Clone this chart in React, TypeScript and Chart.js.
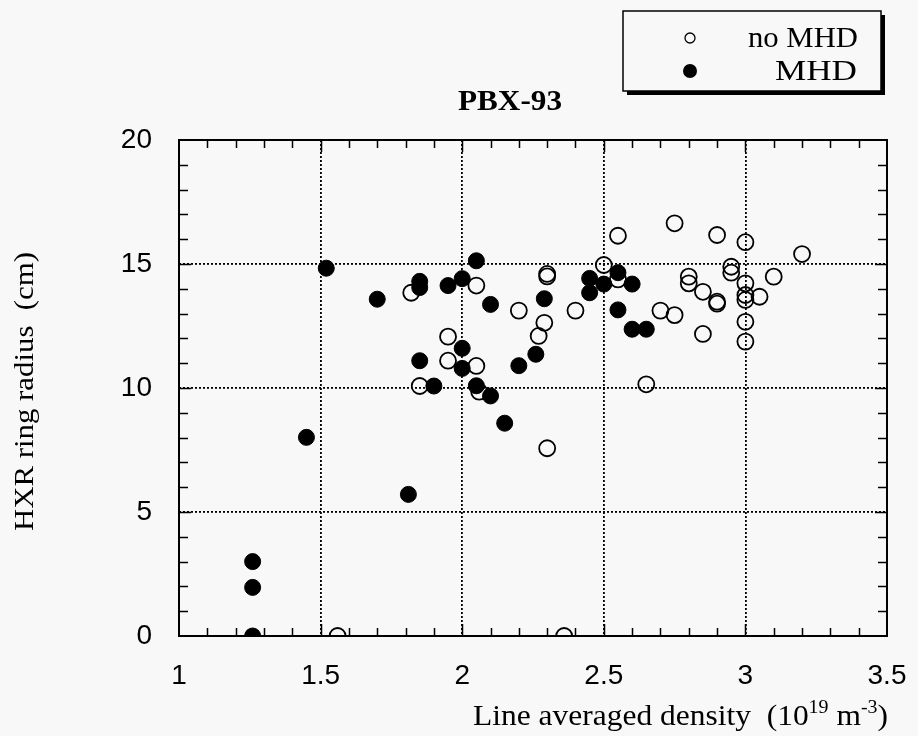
import { useEffect, useRef } from "react";
import { Chart, registerables } from "chart.js";

Chart.register(...registerables);

// ---- data ----
const noMhdX = [1.82, 1.85, 1.95, 1.95, 2.05, 2.05, 2.06, 2.2, 2.27, 2.3, 2.3, 2.29, 2.3, 2.36, 1.56, 2.4, 2.5, 2.55, 2.55, 2.65, 2.7, 2.75, 2.75, 2.8, 2.8, 2.85, 2.85, 2.9, 2.9, 2.9, 2.95, 2.95, 3.0, 3.0, 3.0, 3.0, 3.0, 3.0, 3.05, 3.1, 3.2];
const noMhdY = [13.84, 10.08, 12.07, 11.1, 14.13, 10.89, 9.85, 13.12, 12.1, 14.6, 14.5, 12.63, 7.57, 0, 0, 13.12, 14.96, 16.14, 14.38, 10.15, 13.12, 16.64, 12.94, 14.49, 14.22, 13.88, 12.18, 16.17, 13.48, 13.4, 14.89, 14.65, 15.88, 14.22, 13.75, 13.55, 12.67, 11.87, 13.68, 14.49, 15.4];

const mhdX = [1.26, 1.26, 1.26, 1.45, 1.52, 1.7, 1.81, 1.85, 1.85, 1.85, 1.9, 1.95, 2.0, 2.0, 2.0, 2.05, 2.05, 2.1, 2.1, 2.15, 2.2, 2.26, 2.29, 2.45, 2.45, 2.5, 2.55, 2.55, 2.6, 2.6, 2.65];
const mhdY = [3.0, 1.96, 0, 8.01, 14.83, 13.58, 5.71, 14.3, 14.05, 11.1, 10.08, 14.13, 14.41, 11.6, 10.79, 15.13, 10.09, 13.37, 9.68, 8.58, 10.9, 11.36, 13.6, 14.42, 13.84, 14.19, 14.65, 13.15, 14.19, 12.37, 12.37];

const xMin = 1;
const xMax = 3.5;
const xStep = 0.5;
const xMinorStep = 0.1;
const yMin = 0;
const yMax = 20;
const yStep = 5;
const yMinorStep = 1;

const seriesNames = ["no MHD", "MHD"];
const chartTitle = "PBX-93";
const yTitle = "HXR ring radius  (cm)";

const BG = "#f8f8f8";

function toPoints(xs: number[], ys: number[]) {
  return xs.map((x, i) => ({ x, y: ys[i] }));
}

function drawStretched(
  ctx: CanvasRenderingContext2D,
  text: string,
  x: number,
  y: number,
  font: string,
  width: number
) {
  ctx.save();
  ctx.font = font;
  const w = ctx.measureText(text).width;
  ctx.translate(x, y);
  ctx.scale(width / w, 1);
  ctx.textAlign = "left";
  ctx.textBaseline = "alphabetic";
  ctx.fillText(text, 0, 0);
  ctx.restore();
}

const decorPlugin = {
  id: "decor",
  beforeDraw(chart: any) {
    const { ctx, width, height } = chart;
    ctx.save();
    ctx.fillStyle = BG;
    ctx.fillRect(0, 0, width, height);
    ctx.restore();
  },
  beforeDatasetsDraw(chart: any) {
    const { ctx, chartArea: a, scales } = chart;
    const xs = scales.x;
    const ys = scales.y;
    ctx.save();
    ctx.strokeStyle = "#000";
    ctx.lineWidth = 1.5;
    ctx.beginPath();
    const nx = Math.round((xMax - xMin) / xMinorStep);
    for (let i = 1; i < nx; i++) {
      const v = xMin + i * xMinorStep;
      const major = i % Math.round(xStep / xMinorStep) === 0;
      const len = major ? 12 : 8;
      const px = Math.round(xs.getPixelForValue(v)) + 0.5;
      ctx.moveTo(px, a.bottom);
      ctx.lineTo(px, a.bottom - len);
      ctx.moveTo(px, a.top);
      ctx.lineTo(px, a.top + len);
    }
    const ny = Math.round((yMax - yMin) / yMinorStep);
    for (let i = 1; i < ny; i++) {
      const v = yMin + i * yMinorStep;
      const major = i % Math.round(yStep / yMinorStep) === 0;
      const len = major ? 12 : 9;
      const py = Math.round(ys.getPixelForValue(v)) + 0.5;
      ctx.moveTo(a.left, py);
      ctx.lineTo(a.left + len, py);
      ctx.moveTo(a.right, py);
      ctx.lineTo(a.right - len, py);
    }
    ctx.stroke();
    ctx.lineWidth = 2;
    ctx.strokeRect(a.left, a.top, a.right - a.left, a.bottom - a.top);
    ctx.restore();
  },
  afterDraw(chart: any) {
    const { ctx } = chart;
    ctx.save();
    ctx.fillStyle = "#000";

    // chart title
    drawStretched(ctx, chartTitle, 458, 110, "bold 30px 'Liberation Serif'", 104);

    // x-axis title with superscripts
    const f = "30px 'Liberation Serif'";
    const fs = "19px 'Liberation Serif'";
    const parts: [string, string, number][] = [
      ["Line averaged density  (10", f, 0],
      ["19", fs, -12],
      [" m", f, 0],
      ["-3", fs, -12],
      [")", f, 0],
    ];
    let total = 0;
    for (const [t, ft] of parts) {
      ctx.font = ft;
      total += ctx.measureText(t).width;
    }
    const sx = 415 / total;
    ctx.save();
    ctx.translate(473, 725);
    ctx.scale(sx, 1);
    let cx = 0;
    for (const [t, ft, dy] of parts) {
      ctx.font = ft;
      ctx.fillText(t, cx, dy);
      cx += ctx.measureText(t).width;
    }
    ctx.restore();

    // y-axis title
    ctx.save();
    ctx.translate(33, 531);
    ctx.rotate(-Math.PI / 2);
    drawStretched(ctx, yTitle, 0, 0, "27px 'Liberation Serif'", 279);
    ctx.restore();

    // legend box with shadow
    const bx = 623, by = 11, bw = 258, bh = 80;
    ctx.fillStyle = "#000";
    ctx.fillRect(bx + 4, by + 4, bw, bh);
    ctx.fillStyle = BG;
    ctx.fillRect(bx, by, bw, bh);
    ctx.strokeStyle = "#000";
    ctx.lineWidth = 1.5;
    ctx.strokeRect(bx, by, bw, bh);

    ctx.beginPath();
    ctx.arc(690, 38, 5, 0, Math.PI * 2);
    ctx.lineWidth = 1.3;
    ctx.stroke();
    ctx.beginPath();
    ctx.arc(690, 71, 7, 0, Math.PI * 2);
    ctx.fillStyle = "#000";
    ctx.fill();

    drawStretched(ctx, seriesNames[0], 748, 47, "29px 'Liberation Serif'", 110);
    drawStretched(ctx, seriesNames[1], 775, 80, "29px 'Liberation Serif'", 82);
    ctx.restore();
  },
};

export default function App() {
  const ref = useRef<HTMLCanvasElement>(null);
  useEffect(() => {
    document.body.style.margin = "0";
    document.body.style.background = BG;
    const canvas = ref.current!;
    const chart = new Chart(canvas, {
      type: "scatter",
      data: {
        datasets: [
          {
            label: seriesNames[0],
            data: toPoints(noMhdX, noMhdY),
            pointStyle: "circle",
            pointRadius: 8,
            pointBackgroundColor: "rgba(0,0,0,0)",
            pointBorderColor: "#000",
            pointBorderWidth: 1.8,
            order: 1,
          },
          {
            label: seriesNames[1],
            data: toPoints(mhdX, mhdY),
            pointStyle: "circle",
            pointRadius: 8,
            pointBackgroundColor: "#000",
            pointBorderColor: "#000",
            pointBorderWidth: 1,
            order: 0,
          },
        ],
      },
      options: {
        responsive: false,
        animation: false,
        events: [],
        layout: { padding: { left: 0, right: 31, top: 140, bottom: 0 } },
        plugins: {
          legend: { display: false },
          tooltip: { enabled: false },
          title: { display: false },
        },
        scales: {
          x: {
            type: "linear",
            min: xMin,
            max: xMax,
            afterFit: (s: any) => {
              s.height = 100;
              s.paddingLeft = 0;
              s.paddingRight = 0;
            },
            ticks: {
              stepSize: xStep,
              color: "#000",
              padding: 23,
              maxRotation: 0,
              callback: (v: any) => String(Number(v)),
              font: { family: "'Liberation Sans'", size: 28 },
            },
            grid: { color: "#000", lineWidth: 1.8, drawTicks: false },
            border: { display: false, dash: [2, 2] },
          },
          y: {
            type: "linear",
            min: yMin,
            max: yMax,
            afterFit: (s: any) => {
              s.width = 179;
              s.paddingTop = 0;
              s.paddingBottom = 0;
            },
            ticks: {
              stepSize: yStep,
              color: "#000",
              padding: 27,
              callback: (v: any) => String(Number(v)),
              font: { family: "'Liberation Sans'", size: 28 },
            },
            grid: { color: "#000", lineWidth: 1.8, drawTicks: false },
            border: { display: false, dash: [2, 2] },
          },
        },
      },
      plugins: [decorPlugin],
    } as any);
    return () => chart.destroy();
  }, []);
  return (
    <div style={{ width: 918, height: 736, background: BG }}>
      <canvas ref={ref} width={918} height={736} style={{ display: "block" }} />
    </div>
  );
}
